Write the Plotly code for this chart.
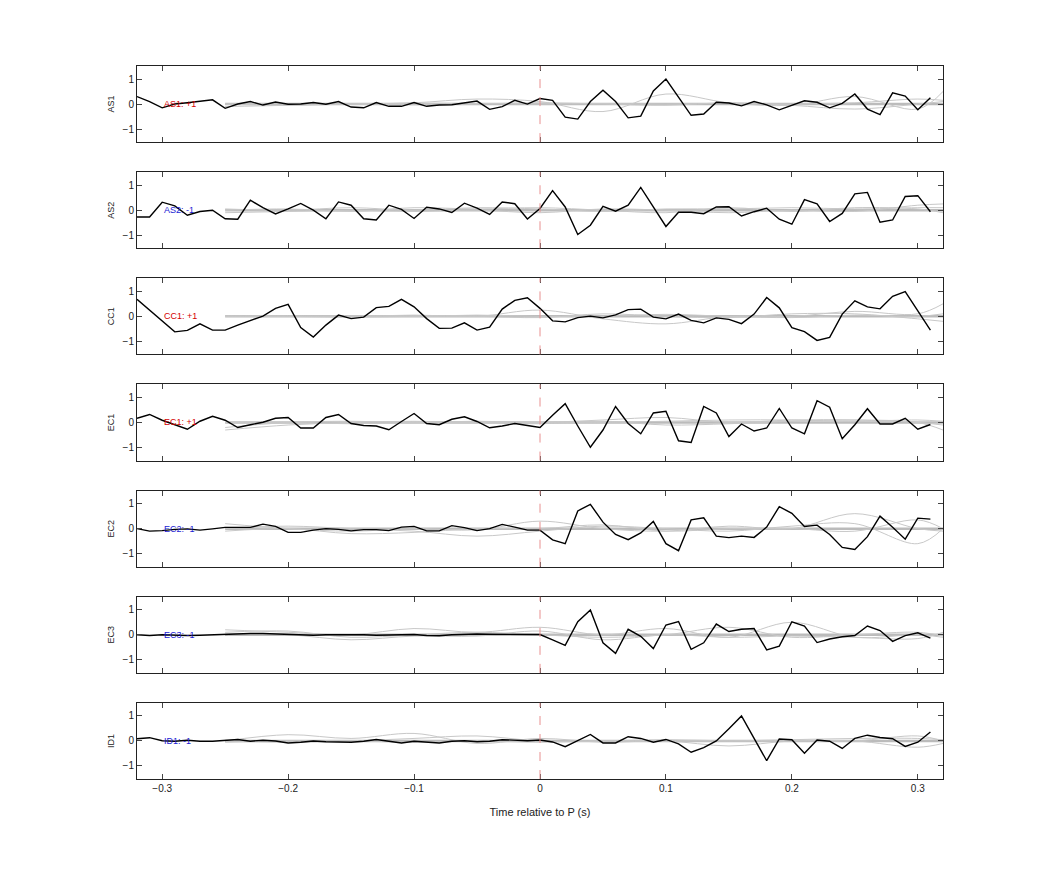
import plotly.graph_objects as go
from plotly.subplots import make_subplots

t = [round(-0.32 + 0.01 * i, 2) for i in range(64)]
gx = [-0.25, -0.2, -0.15, -0.1, -0.05, 0.0, 0.05, 0.1, 0.15, 0.2, 0.25, 0.3, 0.32]

names = ["AS1", "AS2", "CC1", "EC1", "EC2", "EC3", "ID1"]
labels = ["AS1: +1", "AS2: -1", "CC1: +1", "EC1: +1", "EC2: -1", "EC3: -1", "ID1: -1"]
label_colors = ["#d40000", "#1a1ad4", "#d40000", "#d40000", "#1a1ad4", "#1a1ad4", "#1a1ad4"]

as1 = [0.3, 0.1, -0.15, 0.0, 0.05, 0.1, 0.17, -0.17, 0.0, 0.1, -0.04, 0.08, -0.01, 0.0, 0.06, -0.01,
       0.1, -0.12, -0.15, 0.06, -0.09, -0.09, 0.06, -0.09, -0.04, -0.03, 0.04, 0.12, -0.21, -0.1, 0.15,
       0.0, 0.22, 0.15, -0.52, -0.6, 0.1, 0.55, 0.1, -0.55, -0.48, 0.52, 1.0, 0.3, -0.45, -0.4, 0.07,
       0.04, -0.07, 0.1, -0.03, -0.23, -0.04, 0.13, 0.07, -0.15, 0.03, 0.4, -0.2, -0.42, 0.45, 0.32, -0.23, 0.25]
as2 = [-0.27, -0.27, 0.32, 0.17, -0.2, -0.05, 0.0, -0.34, -0.36, 0.4, 0.1, -0.15, 0.05, 0.27, 0.0, -0.34,
       0.33, 0.2, -0.34, -0.39, 0.2, 0.03, -0.33, 0.12, 0.05, -0.09, 0.28, 0.08, -0.17, 0.33, 0.26,
       -0.35, 0.07, 0.78, 0.13, -0.97, -0.6, 0.15, -0.04, 0.2, 0.91, 0.13, -0.65, -0.08, -0.08, -0.14, 0.13,
       0.14, -0.23, -0.06, 0.08, -0.36, -0.56, 0.42, 0.25, -0.45, -0.13, 0.65, 0.71, -0.48, -0.39, 0.55, 0.58, -0.06]
cc1 = [0.68, 0.25, -0.2, -0.62, -0.56, -0.3, -0.55, -0.55, -0.35, -0.17, 0.01, 0.32, 0.48, -0.45, -0.83, -0.35,
       0.05, -0.09, -0.03, 0.35, 0.4, 0.68, 0.38, -0.09, -0.48, -0.47, -0.26, -0.55, -0.43, 0.29, 0.64,
       0.74, 0.32, -0.18, -0.22, -0.05, 0.01, -0.06, 0.06, 0.27, 0.29, -0.03, -0.1, 0.09, -0.16, -0.26, -0.06,
       -0.12, -0.29, 0.09, 0.75, 0.34, -0.45, -0.61, -0.96, -0.84, 0.09, 0.62, 0.38, 0.3, 0.8, 0.99, 0.22, -0.55]
ec1 = [0.17, 0.32, 0.09, -0.09, -0.27, 0.05, 0.25, 0.09, -0.2, -0.09, 0.01, 0.17, 0.2, -0.22, -0.22, 0.2,
       0.32, -0.04, -0.12, -0.14, -0.29, 0.04, 0.36, -0.04, -0.09, 0.13, 0.23, 0.04, -0.21, -0.14, -0.04,
       -0.12, -0.2, 0.29, 0.75, -0.14, -0.99, -0.3, 0.64, -0.04, -0.45, 0.38, 0.45, -0.73, -0.8, 0.64, 0.38,
       -0.56, -0.06, -0.34, -0.22, 0.56, -0.22, -0.45, 0.87, 0.61, -0.65, -0.09, 0.55, -0.06, -0.06, 0.17, -0.27, -0.08]
ec2 = [0.0, -0.1, -0.08, -0.03, -0.01, -0.06, -0.01, 0.05, 0.05, 0.05, 0.18, 0.09, -0.15, -0.15, -0.06, 0.0,
       -0.03, -0.09, -0.04, -0.04, -0.08, 0.06, 0.09, -0.09, -0.09, 0.12, 0.04, -0.08, 0.0, 0.17, 0.06,
       -0.06, -0.06, -0.45, -0.6, 0.71, 0.97, 0.26, -0.23, -0.44, -0.17, 0.29, -0.6, -0.88, 0.35, 0.43, -0.3,
       -0.36, -0.3, -0.35, 0.06, 0.88, 0.61, 0.09, 0.14, -0.23, -0.75, -0.83, -0.32, 0.5, 0.06, -0.42, 0.42, 0.38]
ec3 = [0.0, -0.03, 0.0, -0.02, -0.03, -0.02, 0.0, 0.02, 0.04, 0.05, 0.05, 0.03, 0.02, 0.0, -0.02, 0.0,
       0.0, 0.02, 0.0, -0.02, 0.0, 0.02, 0.01, -0.03, -0.04, 0.0, 0.03, 0.03, 0.02, 0.02, 0.03,
       0.04, 0.01, -0.2, -0.42, 0.52, 0.99, -0.32, -0.74, 0.22, -0.06, -0.55, 0.39, 0.53, -0.58, -0.32, 0.43,
       0.13, 0.22, 0.25, -0.6, -0.45, 0.52, 0.35, -0.31, -0.17, -0.08, -0.03, 0.35, 0.17, -0.26, -0.03, 0.08, -0.13]
id1 = [0.09, 0.13, 0.01, -0.01, 0.03, -0.01, -0.01, 0.01, 0.06, -0.01, 0.03, 0.0, -0.08, -0.05, 0.0, -0.03,
       -0.04, -0.05, -0.01, 0.06, -0.01, -0.08, -0.01, -0.04, -0.08, -0.01, 0.01, -0.03, -0.01, 0.05, 0.04,
       0.01, 0.04, -0.04, -0.23, 0.01, 0.26, -0.08, -0.08, 0.17, 0.1, -0.05, 0.06, -0.12, -0.45, -0.27, 0.0,
       0.49, 1.0, 0.1, -0.79, 0.08, 0.05, -0.49, 0.04, -0.01, -0.3, 0.1, 0.23, 0.14, 0.09, -0.22, -0.05, 0.36]
black = [as1, as2, cc1, ec1, ec2, ec3, id1]

gray = [
    [[0.0, 0.02, 0.0, 0.05, 0.2, 0.1, -0.3, 0.4, 0.05, -0.05, 0.3, -0.2, 0.5],
     [0.0, -0.05, 0.0, -0.03, 0.0, 0.05, 0.0, -0.05, 0.05, -0.05, -0.2, 0.0, 0.1],
     [-0.1, -0.05, 0.0, 0.03, 0.02, 0.0, 0.02, 0.0, 0.03, 0.0, 0.05, 0.2, 0.15]],
    [[0.0, 0.05, -0.05, 0.1, 0.05, 0.1, 0.0, -0.1, 0.1, -0.05, 0.1, 0.05, -0.1],
     [-0.1, -0.05, 0.0, -0.05, 0.0, -0.1, 0.05, 0.0, -0.1, 0.0, -0.05, 0.2, 0.25],
     [0.05, 0.0, 0.1, 0.0, 0.1, 0.05, -0.05, 0.05, 0.05, 0.1, 0.05, 0.1, 0.1]],
    [[0.0, 0.02, 0.0, 0.05, 0.0, 0.25, -0.1, -0.3, 0.0, 0.0, 0.2, 0.1, 0.5],
     [0.0, 0.0, -0.03, 0.0, 0.0, -0.05, 0.1, 0.0, -0.05, 0.1, 0.1, -0.1, -0.2],
     [0.02, 0.0, 0.02, 0.0, 0.05, 0.0, 0.0, 0.08, 0.0, -0.05, 0.05, 0.0, 0.1]],
    [[-0.3, -0.1, 0.0, 0.05, 0.0, 0.0, 0.1, 0.2, 0.0, 0.1, 0.1, 0.0, -0.3],
     [-0.2, 0.0, 0.05, 0.0, 0.0, -0.05, 0.05, -0.1, -0.05, 0.05, 0.1, 0.0, -0.1],
     [0.0, 0.0, -0.05, 0.0, 0.05, 0.0, 0.0, 0.05, 0.1, 0.1, 0.05, 0.1, 0.05]],
    [[0.2, 0.0, -0.1, 0.0, -0.05, 0.3, 0.0, -0.1, 0.1, 0.0, 0.6, 0.0, -0.1],
     [-0.1, 0.0, -0.2, -0.15, 0.0, 0.0, 0.15, -0.1, 0.0, 0.0, -0.1, 0.35, 0.0],
     [0.0, 0.1, 0.0, -0.1, -0.3, -0.1, 0.1, 0.0, -0.1, 0.1, 0.2, -0.6, 0.0]],
    [[0.2, 0.1, 0.0, 0.25, 0.1, 0.3, 0.0, 0.25, -0.1, 0.5, -0.1, 0.0, -0.1],
     [0.1, 0.15, -0.1, 0.0, 0.1, 0.0, -0.1, 0.0, 0.3, -0.1, 0.0, 0.1, -0.05],
     [0.0, 0.0, -0.2, -0.05, -0.05, 0.15, -0.2, 0.0, -0.1, -0.05, -0.1, -0.15, 0.1]],
    [[0.0, 0.25, 0.1, 0.3, -0.1, 0.1, -0.05, 0.0, -0.2, 0.0, 0.0, 0.2, 0.0],
     [0.0, -0.05, 0.0, 0.1, 0.2, 0.0, 0.0, 0.05, 0.0, 0.0, 0.0, -0.25, -0.1],
     [-0.05, 0.0, 0.0, -0.05, 0.0, -0.05, 0.0, 0.0, 0.0, 0.05, 0.1, 0.1, 0.05]],
]

n = len(names)
fig = make_subplots(rows=n, cols=1, shared_xaxes=True, vertical_spacing=30 / 712)
for i in range(n):
    r = i + 1
    fig.add_trace(go.Scatter(x=[gx[0], gx[-1]], y=[0, 0], mode="lines",
                             line=dict(color="#bbbbbb", width=2.5), hoverinfo="skip"), row=r, col=1)
    for g in gray[i]:
        fig.add_trace(go.Scatter(x=gx, y=g, mode="lines", line=dict(color="#c8c8c8", width=1, shape="spline"),
                                 hoverinfo="skip"), row=r, col=1)
    fig.add_trace(go.Scatter(x=t, y=black[i], mode="lines", line=dict(color="black", width=1.4)), row=r, col=1)
    fig.add_vline(x=0, line=dict(color="#e89090", width=1, dash="dash"), row=r, col=1)
    fig.add_annotation(x=-0.3, y=0, text=labels[i], showarrow=False, xanchor="left",
                       font=dict(size=9, color=label_colors[i], family="Liberation Sans"), row=r, col=1)
    fig.update_yaxes(range=[-1.52, 1.52], tickvals=[-1, 0, 1], title_text=names[i],
                     title_font=dict(size=9), title_standoff=6, row=r, col=1)

fig.update_xaxes(range=[-0.32, 0.32], tickvals=[-0.3, -0.2, -0.1, 0, 0.1, 0.2, 0.3],
                 ticks="inside", ticklen=5, showline=True, mirror="ticks", linecolor="#222", linewidth=1,
                 showgrid=False, zeroline=False, tickfont=dict(size=10))
fig.update_xaxes(showticklabels=True, title_text="Time relative to P (s)", title_font=dict(size=11), row=n, col=1)
fig.update_yaxes(ticks="inside", ticklen=5, showline=True, mirror="ticks", linecolor="#222", linewidth=1,
                 showgrid=False, zeroline=False, tickfont=dict(size=10))
fig.update_layout(width=1042, height=875, showlegend=False, plot_bgcolor="white", paper_bgcolor="white",
                  margin=dict(l=129, r=107, t=58, b=104), font=dict(family="Liberation Sans", color="#222"))
fig.write_html("out.html")
